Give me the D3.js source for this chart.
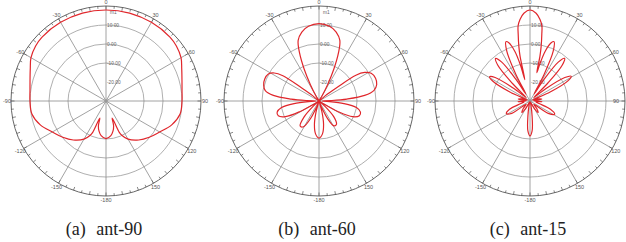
<!DOCTYPE html>
<html>
<head>
<meta charset="utf-8">
<script src="https://cdn.jsdelivr.net/npm/d3@7"></script>
<style>
  body { margin: 0; background: #fff; }
  svg { display: block; }
</style>
</head>
<body>
<svg width="626" height="242"></svg>
<script>
// radial grid (dB) and angle labels
const ringLevels = [-10, 0, 10];
const ringLabels = [-20, -10, 0, 10];
const spokeAngles = [0, 30, 60, 90, 120, 150, 180, 210, 240, 270, 300, 330];
const angleLabels = ["0", "30", "60", "90", "120", "150", "-180", "-150", "-120", "-90", "-60", "-30"];
const captionTags = ["(a)", "(b)", "(c)"];
const captionNames = ["ant-90", "ant-60", "ant-15"];

// ant-90 pattern: angle (deg) / gain (dB)
const angA = [-180, -172, -167, -163, -160, -157, -155, -150, -140, -130, -120, -110, -100, -90, -82, -75, -67, -60, -52, -45, -30, -15,
  0, 15, 30, 45, 52, 60, 67, 75, 82, 90, 100, 110, 120, 130, 140, 150, 155, 157, 160, 163, 167, 172];
const gainA = [-10.2, -11.6, -13.7, -16.3, -20.5, -12.1, -10, -6.8, -3.2, -0.3, 2.6, 6.8, 9.6, 10.0, 10.4, 11.4, 13.3, 15.6, 17.0, 17.6, 17.8, 17.9,
  17.9, 17.9, 17.8, 17.6, 17.0, 15.6, 13.3, 11.4, 10.4, 10.0, 9.6, 6.8, 2.6, -0.3, -3.2, -6.8, -10, -12.1, -20.5, -16.3, -13.7, -11.6];

// ant-60 pattern
const angB = [-180, -174, -169, -165, -161, -158, -154, -149, -143, -137, -132, -126, -122, -119, -115, -110, -105, -100, -96, -93,
  -90, -88, -86, -83, -79, -74, -68, -62, -58, -55, -53, -50, -40, -31, -28, -25, -22, -19, -14, -8,
  0, 8, 14, 19, 22, 25, 28, 31, 40, 50, 53, 55, 58, 62, 68, 74, 79, 83, 86, 88,
  90, 93, 96, 100, 105, 110, 115, 119, 122, 126, 132, 137, 143, 149, 154, 158, 161, 165, 169, 174];
const gainB = [-10.5, -12.6, -17.4, -23.7, -29.5, -26.8, -19.5, -14.2, -13.5, -18.4, -25.8, -30, -26.8, -18.4, -10.5, -7.2, -7.2, -10, -16.8, -25.8,
  -28.4, -23.7, -15.3, -5.8, -1.2, 0.3, 0.8, 0.2, -2.2, -6.8, -18.4, -25.8, -30, -26.8, -20.5, -11.6, -2.6, 3.7, 7.4, 9.7,
  10.7, 9.7, 7.4, 3.7, -2.6, -11.6, -20.5, -26.8, -30, -25.8, -18.4, -6.3, -1.6, 1.1, 2.1, 1.6, -0.5, -5.8, -15.3, -23.7,
  -28.4, -25.8, -16.8, -10, -7.4, -7.4, -10.5, -18.4, -26.8, -30, -25.8, -18.4, -14.7, -14.7, -19.5, -26.8, -29.5, -23.7, -17.4, -12.6];

// ant-15 pattern
const angC = [-180, -176, -172, -167, -160, -151, -145, -138, -130, -124, -118, -112, -106, -99, -93, -86, -81, -76, -70, -66,
  -62, -59, -56, -52, -48, -45, -42, -39, -36, -33, -30.5, -28, -25, -22, -20, -17, -15, -13.5, -12.5, -11.5,
  -10, -9, -7, -4, 0, 4, 7, 9, 10, 11.5, 12.5, 13.5, 15, 17, 20, 22, 25, 28, 30.5, 33,
  36, 39, 42, 45, 48, 52, 56, 59, 62, 66, 70, 76, 81, 86, 93, 99, 106, 112, 118, 124,
  130, 138, 145, 151, 160, 167, 172, 176];
const gainC = [-11.6, -14.2, -22.1, -27.9, -29.5, -25.8, -22.6, -24.7, -27.4, -18.4, -15.9, -18.4, -24.7, -26.8, -23.7, -27.9, -23.7, -25.3, -28.4, -18.4,
  -7.9, -5.2, -7.9, -19.5, -27.4, -16.8, -4.7, -1.2, -4.7, -16.8, -25.8, -14.2, -1.1, 3.7, 2.6, -2.6, -10, -18.4, -5.8, -0.5,
  5.8, 10, 13.2, 16.3, 17.9, 16.3, 13.2, 10, 5.8, -0.5, -5.8, -14.7, -9.5, -2.6, 2.6, 3.7, -1.1, -14.2, -25.8, -16.8,
  -4.7, -1.1, -4.7, -16.8, -27.4, -19.5, -7.9, -4.7, -7.4, -18.4, -28.4, -25.3, -23.7, -27.9, -23.7, -26.8, -24.7, -18.4, -15.3, -18.4,
  -27.4, -24.7, -22.6, -25.8, -29.5, -27.9, -22.1, -14.2];

const patterns = [
  { ang: angA, gain: gainA, marker: true },
  { ang: angB, gain: gainB, marker: true },
  { ang: angC, gain: gainC, marker: false }
];

const svg = d3.select("svg");
svg.append("rect").attr("width", 626).attr("height", 242).attr("fill", "#fff");

const R = 95;
const centersX = [106, 319, 530];
const cy = 101;
const r = d3.scaleLinear().domain([-30, 20]).range([0, R]).clamp(true);
const rad = a => (a - 90) * Math.PI / 180;

const line = d3.lineRadial()
  .angle(d => d[0] * Math.PI / 180)
  .radius(d => r(d[1]))
  .curve(d3.curveCatmullRomClosed.alpha(0.5));

patterns.forEach((p, i) => {
  const cx = centersX[i];
  const g = svg.append("g").attr("transform", `translate(${cx},${cy})`);

  // rings
  g.selectAll(".ring").data(ringLevels).enter().append("circle")
    .attr("r", d => r(d))
    .attr("fill", "none")
    .attr("stroke", "#9a9a9a")
    .attr("stroke-width", 0.8);

  // spokes
  g.selectAll(".spoke").data(spokeAngles).enter().append("line")
    .attr("x1", 0).attr("y1", 0)
    .attr("x2", d => R * Math.cos(rad(d)))
    .attr("y2", d => R * Math.sin(rad(d)))
    .attr("stroke", "#8a8a8a")
    .attr("stroke-width", 0.8);

  // outer circle with ticks
  g.append("circle").attr("r", R).attr("fill", "none")
    .attr("stroke", "#555").attr("stroke-width", 0.9);
  g.selectAll(".tick").data(d3.range(0, 360, 5)).enter().append("line")
    .attr("x1", d => R * Math.cos(rad(d)))
    .attr("y1", d => R * Math.sin(rad(d)))
    .attr("x2", d => (R - (d % 10 === 0 ? 3.5 : 2.5)) * Math.cos(rad(d)))
    .attr("y2", d => (R - (d % 10 === 0 ? 3.5 : 2.5)) * Math.sin(rad(d)))
    .attr("stroke", "#555")
    .attr("stroke-width", 0.7);

  // angle labels (kept inside the page at the right edge)
  g.selectAll(".alab").data(spokeAngles).enter().append("text")
    .attr("x", d => Math.min(99 * Math.cos(rad(d)), 616 - cx))
    .attr("y", d => 99 * Math.sin(rad(d)))
    .attr("text-anchor", "middle")
    .attr("dominant-baseline", "central")
    .attr("font-family", "Liberation Sans, Arial, sans-serif")
    .attr("font-size", 5.5)
    .attr("fill", "#555")
    .text((d, k) => angleLabels[k]);

  // radial labels
  g.selectAll(".rlab").data(ringLabels).enter().append("text")
    .attr("x", 1)
    .attr("y", d => -r(d))
    .attr("dominant-baseline", "central")
    .attr("font-family", "Liberation Sans, Arial, sans-serif")
    .attr("font-size", 4.8)
    .attr("fill", "#666")
    .text(d => d.toFixed(2));

  if (p.marker) {
    g.append("text").attr("x", 4).attr("y", -89)
      .attr("dominant-baseline", "central")
      .attr("font-family", "Liberation Sans, Arial, sans-serif")
      .attr("font-size", 4.8).attr("fill", "#666").text("m1");
  }

  // center dot
  g.append("rect").attr("x", -1.5).attr("y", -1.5).attr("width", 3).attr("height", 3)
    .attr("fill", "#999");

  // pattern curve
  const pts = p.ang.map((a, k) => [a, p.gain[k]]);
  g.append("path").datum(pts)
    .attr("d", line)
    .attr("fill", "none")
    .attr("stroke", "#e0262b")
    .attr("stroke-width", 1.2)
    .attr("stroke-linejoin", "round");

  // caption
  const t = svg.append("text")
    .attr("x", cx - 2)
    .attr("y", 235)
    .attr("text-anchor", "middle")
    .attr("font-family", "Liberation Serif, Times New Roman, serif")
    .attr("font-size", 18)
    .attr("fill", "#222");
  t.append("tspan").text(captionTags[i]);
  t.append("tspan").attr("dx", 6).text(" " + captionNames[i]);
});
</script>
</body>
</html>
